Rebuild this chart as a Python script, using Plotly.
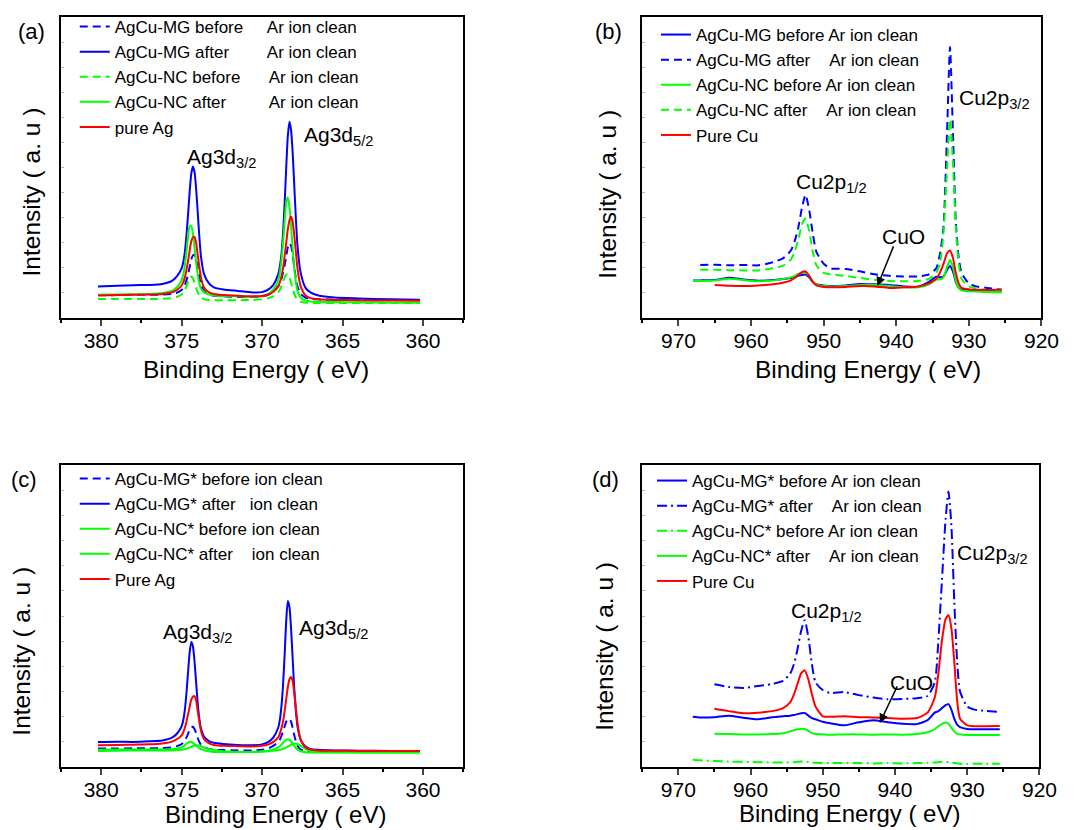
import plotly.graph_objects as go

# ---------------- data ----------------
# Ag 3d binding-energy grid (eV), shared by panels (a) and (c)
BE_AG = [380.2, 379.0, 378.0, 377.0, 376.2, 375.6, 375.3, 375.0, 374.9, 374.8,
         374.7, 374.6, 374.5, 374.4, 374.3, 374.2, 374.1, 374.0, 373.9, 373.8,
         373.6, 373.3, 373.0, 372.4, 371.5, 370.6, 370.0, 369.6, 369.3, 369.0,
         368.9, 368.8, 368.7, 368.6, 368.5, 368.4, 368.3, 368.2, 368.1, 368.0,
         367.9, 367.8, 367.6, 367.3, 367.0, 366.5, 365.5, 364.0, 362.0, 360.2]

# panel (a)
A_MG_BEFORE = [7.6, 7.6, 7.7, 7.7, 7.8, 8.0, 8.4, 9.3, 10.0, 11.0,
               12.5, 14.5, 17.0, 19.5, 20.8, 21.0, 19.5, 16.5, 13.5, 11.0,
               8.8, 7.8, 7.4, 7.2, 7.0, 7.0, 7.2, 7.8, 8.8, 10.5,
               11.5, 13.0, 15.0, 17.5, 20.5, 23.5, 24.9, 24.0, 21.0, 17.0,
               13.0, 10.5, 8.0, 6.8, 6.4, 6.2, 6.1, 6.0, 6.0, 6.0]
A_MG_AFTER = [10.5, 10.7, 10.9, 11.0, 11.3, 12.3, 13.8, 16.5, 18.5, 22.0,
              27.5, 34.5, 42.0, 48.0, 50.3, 48.5, 43.0, 35.0, 27.0, 20.5,
              14.5, 11.5, 10.2, 9.5, 9.0, 8.5, 8.6, 9.5, 11.0, 14.5,
              17.0, 21.0, 28.0, 38.0, 50.0, 60.5, 65.2, 62.5, 55.0, 44.0,
              33.0, 24.0, 15.0, 10.0, 8.5, 7.5, 6.8, 6.5, 6.2, 6.1]
A_NC_BEFORE = [6.3, 6.3, 6.3, 6.3, 6.4, 6.6, 7.0, 7.8, 8.4, 9.3,
               10.6, 12.0, 13.3, 13.8, 13.2, 11.8, 10.0, 8.5, 7.4, 6.8,
               6.2, 6.0, 5.9, 5.9, 5.9, 6.0, 6.2, 6.6, 7.3, 8.5,
               9.3, 10.5, 12.0, 13.5, 14.4, 14.5, 13.5, 11.8, 9.8, 8.0,
               6.8, 6.0, 5.4, 5.1, 5.0, 5.0, 5.0, 5.0, 5.0, 5.0]
A_NC_AFTER = [7.7, 7.8, 7.9, 8.0, 8.3, 9.0, 10.2, 12.5, 14.5, 17.5,
              22.0, 27.0, 30.5, 30.5, 28.0, 23.5, 18.5, 14.5, 11.5, 9.8,
              8.5, 7.8, 7.5, 7.3, 7.2, 7.1, 7.3, 8.0, 9.5, 12.5,
              15.0, 19.0, 25.0, 32.0, 38.5, 40.0, 37.0, 30.5, 23.0, 16.5,
              12.0, 9.0, 6.8, 5.8, 5.5, 5.4, 5.3, 5.2, 5.1, 5.1]
A_PURE_AG = [7.5, 7.6, 7.7, 7.8, 8.0, 8.5, 9.3, 10.8, 11.8, 13.5,
             16.0, 19.0, 22.5, 25.5, 26.8, 26.9, 25.0, 21.0, 17.0, 13.5,
             10.0, 8.5, 8.0, 7.6, 7.4, 7.2, 7.3, 7.8, 8.7, 10.5,
             11.8, 13.8, 16.5, 20.5, 25.0, 29.5, 32.5, 33.7, 32.0, 27.5,
             22.0, 16.5, 10.5, 7.5, 6.6, 6.2, 6.0, 5.9, 5.8, 5.7]

# panel (c)
C_MG_BEFORE = [6.1, 6.1, 6.2, 6.2, 6.3, 6.5, 6.9, 7.6, 8.1, 8.8,
               9.8, 11.0, 12.3, 13.1, 13.3, 12.6, 11.2, 9.6, 8.3, 7.4,
               6.5, 6.0, 5.7, 5.6, 5.5, 5.5, 5.7, 6.2, 7.0, 8.3,
               9.0, 10.2, 11.8, 13.5, 15.0, 15.8, 16.0, 15.0, 13.0, 10.5,
               8.5, 7.0, 5.8, 5.2, 5.0, 5.0, 5.0, 5.0, 5.0, 5.0]
C_MG_AFTER = [8.3, 8.4, 8.3, 8.5, 8.8, 9.7, 11.0, 13.5, 15.5, 19.0,
              24.5, 31.5, 38.0, 41.4, 40.0, 35.0, 28.0, 21.0, 16.0, 12.8,
              10.0, 8.6, 8.0, 7.6, 7.3, 7.2, 7.5, 8.3, 9.8, 13.0,
              15.5, 20.0, 27.0, 37.0, 48.5, 55.0, 53.0, 46.0, 36.0, 26.0,
              18.5, 13.5, 9.0, 6.8, 6.0, 5.7, 5.5, 5.4, 5.3, 5.2]
C_NC_BEFORE = [5.7, 5.8, 5.8, 5.8, 5.8, 5.9, 6.1, 6.5, 6.8, 7.2,
               7.7, 8.1, 8.3, 8.3, 8.0, 7.6, 7.1, 6.6, 6.2, 5.9,
               5.5, 5.2, 5.0, 5.0, 5.0, 5.0, 5.1, 5.4, 5.8, 6.5,
               6.9, 7.4, 8.0, 8.6, 9.0, 9.2, 9.0, 8.5, 7.8, 7.0,
               6.3, 5.8, 5.2, 4.9, 4.8, 4.8, 4.8, 4.8, 4.8, 4.8]
C_NC_AFTER = [5.3, 5.4, 5.5, 5.5, 5.5, 5.5, 5.6, 5.7, 5.8, 5.9,
              6.0, 6.2, 6.4, 6.7, 6.9, 7.1, 7.2, 7.2, 7.1, 6.9,
              6.5, 6.0, 5.6, 5.2, 5.0, 5.0, 5.1, 5.2, 5.4, 5.6,
              5.7, 5.8, 6.0, 6.2, 6.5, 6.8, 7.1, 7.4, 7.6, 7.7,
              7.7, 7.6, 7.0, 6.0, 5.3, 5.0, 4.9, 4.8, 4.8, 4.8]
C_PURE_AG = [7.2, 7.3, 7.4, 7.5, 7.8, 8.4, 9.2, 10.5, 11.5, 13.0,
             15.0, 17.5, 20.0, 22.3, 23.3, 23.5, 22.0, 18.5, 15.0, 12.0,
             9.2, 7.8, 7.3, 7.0, 6.9, 6.8, 7.0, 7.5, 8.3, 9.8,
             11.0, 12.8, 15.0, 18.5, 22.5, 26.5, 29.0, 29.8, 28.5, 24.5,
             19.5, 14.5, 9.0, 6.5, 5.8, 5.5, 5.4, 5.3, 5.3, 5.3]

# Cu 2p binding-energy grid (eV), shared by panels (b) and (d)
BE_CU = [968.0, 967.0, 965.0, 963.0, 961.0, 959.0, 957.0, 955.5, 954.5, 954.0,
         953.5, 953.0, 952.5, 952.0, 951.5, 951.0, 950.0, 949.0, 947.0, 945.0,
         943.0, 941.0, 939.0, 937.0, 935.5, 934.5, 934.0, 933.5, 933.0, 932.6,
         932.2, 931.8, 931.4, 931.0, 930.0, 929.0, 927.5, 925.5]

# panel (b)
B_MG_BEFORE = [12.5, 12.5, 12.6, 13.4, 12.8, 12.4, 12.6, 13.0, 13.3, 13.6,
               14.0, 14.3, 14.4, 13.5, 12.0, 11.2, 10.8, 10.6, 10.8, 11.3,
               11.2, 11.0, 10.5, 10.4, 12.0, 13.7, 13.5, 13.8, 16.0, 17.3,
               15.5, 12.0, 10.0, 9.5, 9.4, 9.2, 9.2, 9.0]
B_MG_AFTER = [None, 17.6, 17.7, 17.5, 17.6, 17.5, 18.5, 20.0, 22.5, 25.5,
              30.0, 36.5, 40.9, 36.0, 28.0, 22.0, 18.0, 16.5, 16.3, 15.5,
              14.5, 14.0, 13.8, 13.8, 14.5, 16.5, 21.0, 30.0, 62.0, 90.0,
              62.0, 32.0, 20.0, 15.0, 11.5, 10.5, 10.0, 9.4]
B_NC_BEFORE = [12.3, 12.3, 12.5, 13.0, 12.6, 12.2, 12.5, 13.0, 13.5, 14.0,
               14.6, 15.0, 15.1, 14.0, 12.2, 11.2, 10.6, 10.5, 10.6, 11.0,
               11.0, 10.6, 10.2, 10.2, 11.2, 12.8, 12.8, 13.5, 17.0, 19.3,
               17.0, 12.5, 10.0, 9.2, 8.9, 8.8, 8.6, 8.5]
B_NC_AFTER = [None, 16.0, 16.0, 15.9, 15.8, 15.8, 16.5, 17.5, 19.5, 22.0,
              26.0, 31.0, 33.1, 29.0, 22.0, 17.5, 15.0, 14.5, 14.0, 13.3,
              12.7, 12.3, 12.2, 12.3, 13.0, 15.0, 18.0, 28.0, 50.0, 66.0,
              52.0, 30.0, 18.0, 13.0, 10.5, 9.8, 9.3, 8.8]
B_PURE_CU = [None, None, 11.0, 10.7, 10.6, 10.8, 11.2, 11.8, 12.5, 13.3,
             14.3, 15.2, 15.5, 14.0, 12.0, 10.8, 10.3, 10.2, 10.3, 10.6,
             10.5, 10.0, 10.2, 10.5, 11.5, 13.0, 15.0, 18.0, 21.5, 22.4,
             20.0, 15.0, 11.5, 10.0, 9.5, 9.4, 9.3, 9.5]

# panel (d)
D_MG_BEFORE = [16.6, 16.4, 16.5, 17.0, 16.3, 15.8, 16.5, 16.8, 17.0, 17.2,
               17.5, 17.8, 17.9, 17.0, 16.2, 15.8, 15.0, 14.5, 13.8, 14.8,
               15.5, 14.8, 14.3, 14.2, 15.5, 18.0, 18.5, 19.5, 20.5, 20.8,
               19.0, 16.0, 14.0, 13.2, 12.6, 12.5, 12.5, 12.5]
D_MG_AFTER = [None, None, 27.4, 26.5, 26.2, 26.8, 27.5, 28.5, 31.0, 34.0,
              39.0, 45.0, 48.6, 43.0, 34.0, 28.0, 25.5, 24.5, 24.8, 23.8,
              23.0, 22.4, 22.5, 22.8, 23.5, 28.0, 42.0, 62.0, 82.0, 91.2,
              80.0, 55.0, 35.0, 25.0, 20.0, 19.0, 18.6, 18.2]
D_NC_BEFORE = [2.4, 2.2, 2.0, 1.8, 1.7, 1.6, 1.5, 1.5, 1.5, 1.6,
               1.7, 1.8, 1.8, 1.7, 1.5, 1.4, 1.3, 1.3, 1.3, 1.3,
               1.2, 1.3, 1.2, 1.3, 1.4, 1.5, 1.6, 1.7, 1.7, 1.6,
               1.5, 1.3, 1.2, 1.1, 1.0, 1.1, 1.1, 1.1]
D_NC_AFTER = [None, None, 11.0, 10.9, 10.8, 10.8, 10.9, 11.2, 11.8, 12.2,
              12.5, 12.6, 12.6, 12.0, 11.2, 10.9, 10.8, 10.7, 10.8, 10.8,
              10.7, 10.8, 10.7, 10.9, 11.5, 12.5, 13.5, 14.3, 14.7, 14.3,
              13.0, 11.8, 11.0, 10.8, 10.6, 10.6, 10.6, 10.6]
D_PURE_CU = [None, None, 19.3, 18.5, 17.8, 18.0, 18.5, 19.5, 21.5, 24.0,
             27.5, 31.0, 32.0, 29.0, 24.0, 20.0, 16.8, 16.6, 16.8, 16.5,
             16.4, 16.2, 16.0, 16.2, 18.0, 23.0, 31.0, 42.0, 49.0, 50.3,
             46.0, 35.0, 22.0, 16.0, 13.8, 13.5, 13.5, 13.6]

AG_TICKS = [380, 375, 370, 365, 360]
CU_TICKS = [970, 960, 950, 940, 930, 920]

NB = "\u00a0"
LEG_A = ["AgCu-MG before" + NB * 5 + "Ar ion clean",
         "AgCu-MG after" + NB * 8 + "Ar ion clean",
         "AgCu-NC before" + NB * 6 + "Ar ion clean",
         "AgCu-NC after" + NB * 9 + "Ar ion clean",
         "pure Ag"]
LEG_B = ["AgCu-MG before Ar ion clean",
         "AgCu-MG after" + NB * 4 + "Ar ion clean",
         "AgCu-NC before Ar ion clean",
         "AgCu-NC after" + NB * 4 + "Ar ion clean",
         "Pure Cu"]
LEG_C = ["AgCu-MG* before ion clean",
         "AgCu-MG* after" + NB * 3 + "ion clean",
         "AgCu-NC* before ion clean",
         "AgCu-NC* after" + NB * 4 + "ion clean",
         "Pure Ag"]
LEG_D = ["AgCu-MG* before Ar ion clean",
         "AgCu-MG* after" + NB * 4 + "Ar ion clean",
         "AgCu-NC* before Ar ion clean",
         "AgCu-NC* after" + NB * 4 + "Ar ion clean",
         "Pure Cu"]

# ---------------- styling ----------------
W, H = 1087, 830
FONT = "Arial, 'Liberation Sans', sans-serif"
BLUE, GREEN, RED = "#0000FF", "#00FF00", "#FF0000"
DASH = "8px,5px"
DASHDOT = "10px,4px,2px,4px"
LW = 2


def px_x(p):
    return p / W


def px_y(p):
    return 1 - p / H


# axis boxes in pixels (left, right, top, bottom)
BOX = {
    1: (62, 471, 17, 318),
    2: (653, 1059, 17, 318),
    3: (62, 471, 465, 767),
    4: (653, 1057, 465, 767),
}

fig = go.Figure()


def add(n, x, y, name, color, dash, legend):
    fig.add_trace(go.Scatter(
        x=x, y=y, name=name, mode="lines",
        line=dict(color=color, width=LW, dash=dash, shape="spline", smoothing=0.6),
        xaxis="x" if n == 1 else f"x{n}", yaxis="y" if n == 1 else f"y{n}",
        legend=legend, connectgaps=False))


# panel (a)
add(1, BE_AG, A_MG_BEFORE, LEG_A[0], BLUE, DASH, "legend")
add(1, BE_AG, A_MG_AFTER, LEG_A[1], BLUE, "solid", "legend")
add(1, BE_AG, A_NC_BEFORE, LEG_A[2], GREEN, DASH, "legend")
add(1, BE_AG, A_NC_AFTER, LEG_A[3], GREEN, "solid", "legend")
add(1, BE_AG, A_PURE_AG, LEG_A[4], RED, "solid", "legend")
# panel (b)
add(2, BE_CU, B_MG_BEFORE, LEG_B[0], BLUE, "solid", "legend2")
add(2, BE_CU, B_MG_AFTER, LEG_B[1], BLUE, DASH, "legend2")
add(2, BE_CU, B_NC_BEFORE, LEG_B[2], GREEN, "solid", "legend2")
add(2, BE_CU, B_NC_AFTER, LEG_B[3], GREEN, DASH, "legend2")
add(2, BE_CU, B_PURE_CU, LEG_B[4], RED, "solid", "legend2")
# panel (c)
add(3, BE_AG, C_MG_BEFORE, LEG_C[0], BLUE, DASH, "legend3")
add(3, BE_AG, C_MG_AFTER, LEG_C[1], BLUE, "solid", "legend3")
add(3, BE_AG, C_NC_BEFORE, LEG_C[2], GREEN, "solid", "legend3")
add(3, BE_AG, C_NC_AFTER, LEG_C[3], GREEN, "solid", "legend3")
add(3, BE_AG, C_PURE_AG, LEG_C[4], RED, "solid", "legend3")
# panel (d)
add(4, BE_CU, D_MG_BEFORE, LEG_D[0], BLUE, "solid", "legend4")
add(4, BE_CU, D_MG_AFTER, LEG_D[1], BLUE, DASHDOT, "legend4")
add(4, BE_CU, D_NC_BEFORE, LEG_D[2], GREEN, DASHDOT, "legend4")
add(4, BE_CU, D_NC_AFTER, LEG_D[3], GREEN, "solid", "legend4")
add(4, BE_CU, D_PURE_CU, LEG_D[4], RED, "solid", "legend4")

layout = dict(
    width=W, height=H, margin=dict(l=0, r=0, t=0, b=0),
    paper_bgcolor="white", plot_bgcolor="white",
    font=dict(family=FONT, color="black"),
)

for n in (1, 2, 3, 4):
    l, r, t, b = BOX[n]
    xr = [382.5, 357.5] if n in (1, 3) else [975, 920]
    ticks = AG_TICKS if n in (1, 3) else CU_TICKS
    minor_dt = 2.5 if n in (1, 3) else 5
    xk = "xaxis" if n == 1 else f"xaxis{n}"
    yk = "yaxis" if n == 1 else f"yaxis{n}"
    layout[xk] = dict(
        domain=[px_x(l), px_x(r)], range=xr, anchor="y" if n == 1 else f"y{n}",
        tickvals=ticks, ticks="outside", ticklen=6, tickwidth=1.5,
        ticklabelstandoff=-3,
        tickfont=dict(size=21, family=FONT), showline=True, linewidth=2,
        linecolor="black", mirror=True, showgrid=False, zeroline=False,
        minor=dict(ticks="outside", ticklen=3, dtick=minor_dt, tickcolor="black",
                   showgrid=False),
    )
    layout[yk] = dict(
        domain=[px_y(b), px_y(t)], range=[0, 100], anchor="x" if n == 1 else f"x{n}",
        showticklabels=False, ticks="inside", ticklen=3, tickcolor="#b8b8b8",
        tick0=0, dtick=100 / 12, showline=True, linewidth=2, linecolor="black",
        mirror=True, showgrid=False, zeroline=False,
    )

# legends
LEG_POS = {"legend": (76, 9), "legend2": (667, 17),
           "legend3": (76, 461), "legend4": (663, 463)}
for k, (lx, ly) in LEG_POS.items():
    layout[k] = dict(x=px_x(lx), y=px_y(ly), xanchor="left", yanchor="top",
                     bgcolor="rgba(0,0,0,0)", borderwidth=0,
                     font=dict(size=17, family=FONT, color="black"),
                     tracegroupgap=0)

fig.update_layout(**layout)

ann = []
# panel labels
for txt, cx, cy in [("(a)", 32, 31), ("(b)", 619, 31), ("(c)", 24, 479), ("(d)", 616, 479)]:
    ann.append(dict(text=txt, x=px_x(cx), y=px_y(cy), xref="paper", yref="paper",
                    showarrow=False, xanchor="center", yanchor="middle",
                    font=dict(size=22, family=FONT)))
# axis titles
for cx, cy in [(32, 192), (617, 194), (21, 651), (614, 646)]:
    ann.append(dict(text="Intensity ( a. u )", x=px_x(cx), y=px_y(cy),
                    xref="paper", yref="paper", showarrow=False, textangle=-90,
                    xanchor="center", yanchor="middle", font=dict(size=24.5, family=FONT)))
for cx, cy, fs in [(260, 369, 24.5), (883, 369, 24.5), (280, 814, 24), (864, 813, 24)]:
    ann.append(dict(text="Binding Energy ( eV)", x=px_x(cx), y=px_y(cy),
                    xref="paper", yref="paper", showarrow=False,
                    xanchor="center", yanchor="middle", font=dict(size=fs, family=FONT)))

# peak labels (data coordinates)
PEAKS = [
    ("x", "y", "Ag3d<sub>3/2</sub>", 374.8, 53.0),
    ("x", "y", "Ag3d<sub>5/2</sub>", 367.5, 60.5),
    ("x2", "y2", "Cu2p<sub>1/2</sub>", 954.1, 44.9),
    ("x2", "y2", "Cu2p<sub>3/2</sub>", 931.6, 72.8),
    ("x2", "y2", "CuO", 942.2, 27.2),
    ("x3", "y3", "Ag3d<sub>3/2</sub>", 376.3, 44.4),
    ("x3", "y3", "Ag3d<sub>5/2</sub>", 367.8, 45.7),
    ("x4", "y4", "Cu2p<sub>1/2</sub>", 954.7, 51.3),
    ("x4", "y4", "Cu2p<sub>3/2</sub>", 931.7, 70.5),
    ("x4", "y4", "CuO", 941.0, 28.1),
]
for xr_, yr_, txt, x, y in PEAKS:
    ann.append(dict(text=txt, x=x, y=y, xref=xr_, yref=yr_, showarrow=False,
                    xanchor="left", yanchor="middle", font=dict(size=21, family=FONT)))

# CuO arrows
for xr_, yr_, hx, hy, tx, ty in [("x2", "y2", 942.6, 10.6, 940.3, 24.3),
                                 ("x4", "y4", 942.1, 14.6, 939.6, 27.2)]:
    ann.append(dict(text="", x=hx, y=hy, xref=xr_, yref=yr_, ax=tx, ay=ty,
                    axref=xr_, ayref=yr_, showarrow=True, arrowhead=2,
                    arrowsize=1.2, arrowwidth=1.5, arrowcolor="black"))

fig.update_layout(annotations=ann)
fig.write_html("out.html")
